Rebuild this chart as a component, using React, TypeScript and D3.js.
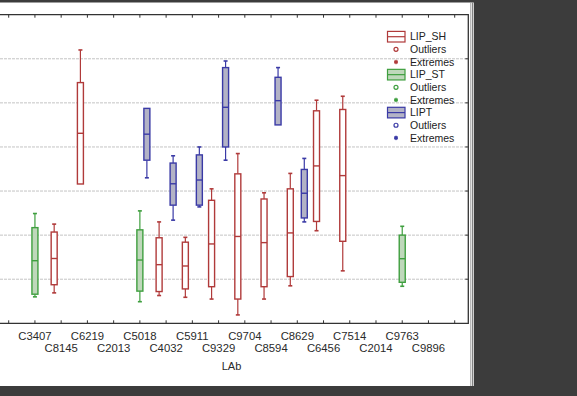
import React from "react";
import * as d3 from "d3";

// Box statistics per laboratory: [min, q1, median, q3, max]
type Stat = [number, number, number, number, number] | null;

const categories = [
  "C3407", "C8145", "C6219", "C2013", "C5018", "C4032", "C5911", "C9329",
  "C9704", "C8594", "C8629", "C6456", "C7514", "C2014", "C9763", "C9896",
];

const lipSH: Stat[] = [
  null,
  [6.9, 8.75, 14.7, 20.7, 22.5],
  [31.6, 31.6, 43.1, 54.6, 62.0],
  null,
  null,
  [6.3, 7.2, 13.3, 19.4, 23.0],
  [5.9, 7.8, 13.0, 18.4, 19.5],
  [5.5, 8.3, 18.0, 27.9, 30.5],
  [1.9, 5.5, 19.7, 33.9, 38.5],
  [5.5, 8.3, 18.3, 28.2, 29.6],
  [8.5, 10.6, 20.5, 30.5, 34.0],
  [21.0, 23.1, 35.7, 48.2, 50.6],
  [11.9, 18.6, 33.5, 48.5, 51.5],
  null,
  null,
  null,
];

const lipST: Stat[] = [
  [6.0, 6.6, 14.2, 21.7, 24.9],
  null,
  null,
  null,
  [4.9, 7.3, 14.35, 21.2, 25.5],
  null,
  null,
  null,
  null,
  null,
  null,
  null,
  null,
  null,
  [8.4, 9.3, 14.65, 20.0, 22.0],
  null,
];

const lipT: Stat[] = [
  null,
  null,
  null,
  null,
  [33.0, 37.0, 42.9, 48.75, 48.75],
  [23.4, 26.8, 31.65, 36.35, 38.0],
  [26.4, 26.8, 32.5, 38.2, 40.0],
  [37.0, 40.0, 49.0, 58.0, 59.5],
  null,
  [45.0, 45.0, 50.5, 55.8, 58.0],
  [23.0, 23.9, 29.5, 34.9, 37.4],
  null,
  null,
  null,
  null,
  null,
];

const yTicks = [0, 10, 20, 30, 40, 50, 60, 70];

const seriesList = [
  { name: "LIP_SH", data: lipSH, stroke: "#b03a3a", fill: "#ffffff", offset: -7 },
  { name: "LIP_ST", data: lipST, stroke: "#3f9f3f", fill: "#bfd8bb", offset: 0 },
  { name: "LIPT", data: lipT, stroke: "#3a3aa6", fill: "#b3b3c6", offset: 7 },
];

const W = 577;
const H = 396;
const plot = { left: 0, right: 468.3, top: 14.7, bottom: 323.3 };
const font = "'Liberation Sans', Arial, sans-serif";

export default function App() {
  const x = d3.scaleLinear().domain([0, categories.length + 1]).range([8.7, 454.7]);
  const y = d3.scaleLinear().domain([0, 70]).range([plot.bottom, plot.top]);
  const tickIdx = d3.range(0, categories.length + 2);
  const boxW = 6;
  const capW = 4;

  const legendRows: { kind: string; series: number; label: string }[] = [];
  seriesList.forEach((s, i) => {
    legendRows.push({ kind: "box", series: i, label: s.name });
    legendRows.push({ kind: "out", series: i, label: "Outliers" });
    legendRows.push({ kind: "ext", series: i, label: "Extremes" });
  });

  return (
    <svg
      width={W}
      height={H}
      style={{ position: "fixed", left: 0, top: 0, background: "#ffffff" }}
      fontFamily={font}
    >
      {/* grid lines */}
      {yTicks.slice(1, -1).map((t) => (
        <line
          key={"g" + t}
          x1={plot.left}
          x2={plot.right}
          y1={y(t)}
          y2={y(t)}
          stroke="#c4c4c4"
          strokeWidth={1}
          strokeDasharray="3 1"
        />
      ))}

      {/* frame */}
      <path
        d={`M${plot.left},${plot.top}H${plot.right}V${plot.bottom}H${plot.left}`}
        fill="none"
        stroke="#333"
        strokeWidth={1.3}
      />
      {tickIdx.map((i) => (
        <g key={"t" + i} stroke="#333" strokeWidth={1}>
          <line x1={x(i)} x2={x(i)} y1={plot.top} y2={plot.top + 3} />
          <line x1={x(i)} x2={x(i)} y1={plot.bottom} y2={plot.bottom - 3} />
        </g>
      ))}
      {yTicks.slice(1, -1).map((t) => (
        <line key={"r" + t} x1={plot.right} x2={plot.right - 3} y1={y(t)} y2={y(t)} stroke="#333" />
      ))}

      {/* boxes */}
      {seriesList.map((s) =>
        s.data.map((d, i) => {
          if (!d) return null;
          const cx = x(i + 1) + s.offset;
          const [mn, q1, md, q3, mx] = d;
          return (
            <g key={s.name + i} stroke={s.stroke}>
              {mx > q3 && (
                <g strokeWidth={1.2}>
                  <line x1={cx} x2={cx} y1={y(q3)} y2={y(mx)} />
                  <line x1={cx - capW / 2} x2={cx + capW / 2} y1={y(mx)} y2={y(mx)} strokeWidth={1.6} />
                </g>
              )}
              {mn < q1 && (
                <g strokeWidth={1.2}>
                  <line x1={cx} x2={cx} y1={y(q1)} y2={y(mn)} />
                  <line x1={cx - capW / 2} x2={cx + capW / 2} y1={y(mn)} y2={y(mn)} strokeWidth={1.6} />
                </g>
              )}
              <rect
                x={cx - boxW / 2}
                y={y(q3)}
                width={boxW}
                height={y(q1) - y(q3)}
                fill={s.fill}
                strokeWidth={1.4}
              />
              <line x1={cx - boxW / 2} x2={cx + boxW / 2} y1={y(md)} y2={y(md)} strokeWidth={1.4} />
            </g>
          );
        })
      )}

      {/* legend */}
      {legendRows.map((r, k) => {
        const s = seriesList[r.series];
        const cy = 36.7 + k * 12.65;
        let sym: React.ReactNode = null;
        if (r.kind === "box") {
          sym = (
            <g stroke={s.stroke} strokeWidth={1.2}>
              <rect x={387.5} y={cy - 5.3} width={17.5} height={10.6} fill={s.fill} />
              <line x1={387.5} x2={405} y1={cy} y2={cy} />
            </g>
          );
        } else if (r.kind === "out") {
          sym = <circle cx={396} cy={cy} r={2} fill="none" stroke={s.stroke} strokeWidth={1.2} />;
        } else {
          sym = (
            <g>
              <circle cx={396} cy={cy} r={1.8} fill={s.stroke} />
              <path
                d={d3.symbol(d3.symbolAsterisk, 14)() || ""}
                transform={`translate(396,${cy})`}
                stroke={s.stroke}
                strokeWidth={1}
                fill="none"
              />
            </g>
          );
        }
        return (
          <g key={"l" + k}>
            {sym}
            <text x={410} y={cy} dy="0.36em" fontSize={10.5} fill="#222">
              {r.label}
            </text>
          </g>
        );
      })}

      {/* category labels, staggered on two rows */}
      {categories.map((c, i) => (
        <text
          key={c}
          x={x(i + 1)}
          y={i % 2 === 0 ? 340 : 351.5}
          textAnchor="middle"
          fontSize={11.3}
          fill="#2a2a2a"
        >
          {c}
        </text>
      ))}
      <text x={231.5} y={370} textAnchor="middle" fontSize={11} fill="#2a2a2a">
        LAb
      </text>

      {/* surrounding window chrome */}
      <rect x={0} y={0} width={W} height={2.5} fill="#3c3c3c" />
      <line x1={470.8} x2={470.8} y1={2.5} y2={386} stroke="#9a9a9a" strokeWidth={1} />
      <line x1={472.6} x2={472.6} y1={2.5} y2={386} stroke="#777" strokeWidth={1} />
      <rect x={473.8} y={0} width={W - 473.8} height={H} fill="#3c3c3c" />
      <rect x={0} y={386} width={W} height={H - 386} fill="#3c3c3c" />
    </svg>
  );
}
